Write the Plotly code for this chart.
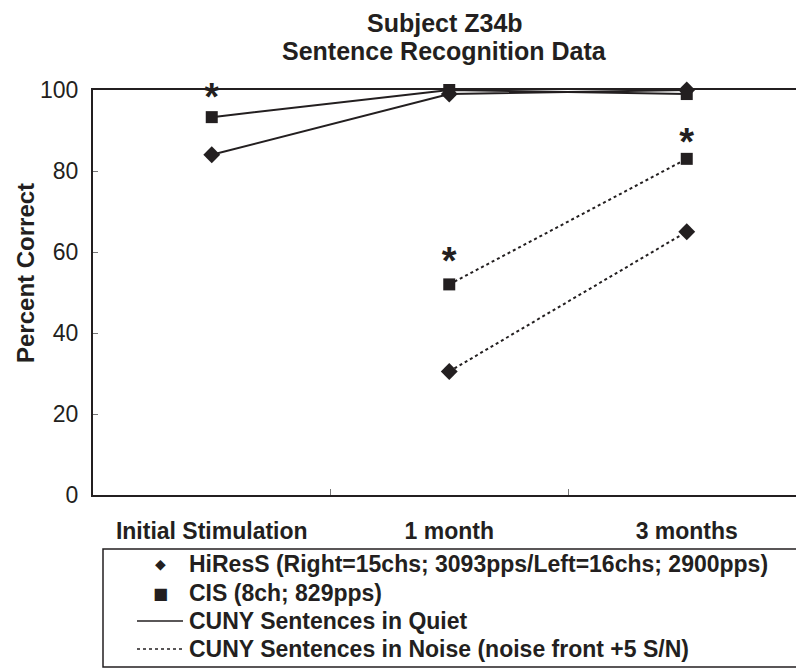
import plotly.graph_objects as go

categories = ["Initial Stimulation", "1 month", "3 months"]
hires_quiet = [84, 99, 100]
cis_quiet = [93.3, 100, 99]
hires_noise = [None, 30.5, 65]
cis_noise = [None, 52, 83]
star_x = ["Initial Stimulation", "1 month", "3 months"]
star_y = [97.3, 57, 86.3]

title_lines = ["Subject Z34b", "Sentence Recognition Data"]
y_title = "Percent Correct"
legend_labels = ["HiResS (Right=15chs; 3093pps/Left=16chs; 2900pps)",
                 "CIS (8ch; 829pps)",
                 "CUNY Sentences in Quiet",
                 "CUNY Sentences in Noise (noise front +5 S/N)"]
legend_kinds = ["diamond", "square", "solid", "dot"]

ink = "#231f20"
font = "Liberation Sans, Arial, sans-serif"

# plot area in pixels
L, R, T, B, W, H = 93, 0, 90, 174, 796, 669
PW, PH = W - L - R, H - T - B
def px(x): return (x - L) / PW
def py(y): return (H - B - y) / PH

fig = go.Figure()

def add(y, symbol, dash):
    fig.add_trace(go.Scatter(
        x=categories, y=y, mode="lines+markers", showlegend=False,
        line=dict(color=ink, width=2, dash=dash),
        marker=dict(symbol=symbol, size=13 if symbol == "diamond" else 12, color=ink),
        cliponaxis=False, hoverinfo="skip"))

add(hires_quiet, "diamond", "solid")
add(cis_quiet, "square", "solid")
add(hires_noise, "diamond", "dot")
add(cis_noise, "square", "dot")

fig.add_trace(go.Scatter(
    x=star_x, y=star_y, mode="text", text=["<b>*</b>"] * len(star_x),
    textfont=dict(size=38, color=ink, family=font), textposition="middle center",
    showlegend=False, cliponaxis=False, hoverinfo="skip"))

annotations = []
shapes = []
# title
for t, yy in zip(title_lines, [23, 51]):
    annotations.append(dict(text="<b>" + t + "</b>", x=0.5, xref="paper", y=py(yy),
                            yref="paper", xanchor="center", yanchor="middle",
                            showarrow=False, font=dict(size=25, color=ink, family=font)))
# y-axis title
annotations.append(dict(text="<b>" + y_title + "</b>", x=px(25), xref="paper", y=py(273),
                        yref="paper", xanchor="center", yanchor="middle", textangle=-90,
                        showarrow=False, font=dict(size=24, color=ink, family=font)))

# legend (drawn manually for tight row spacing)
shapes.append(dict(type="rect", xref="paper", yref="paper", x0=px(103), x1=px(805),
                   y0=py(549), y1=py(667), line=dict(color=ink, width=1.5),
                   fillcolor="white", layer="above"))
rows = [564, 593, 621, 649]
for lab, kind, ry in zip(legend_labels, legend_kinds, rows):
    annotations.append(dict(text="<b>" + lab + "</b>", x=px(187), xref="paper", y=py(ry),
                            yref="paper", xanchor="left", yanchor="middle",
                            showarrow=False, font=dict(size=23, color=ink, family=font)))
    if kind in ("diamond", "square"):
        glyph = "\u25c6" if kind == "diamond" else "\u25a0"
        annotations.append(dict(text=glyph, x=px(160), xref="paper", y=py(ry),
                                yref="paper", xanchor="center", yanchor="middle",
                                showarrow=False,
                                font=dict(size=14 if kind == "diamond" else 16, color=ink,
                                          family="DejaVu Sans")))
    else:
        shapes.append(dict(type="line", xref="paper", yref="paper", x0=px(137), x1=px(183),
                           y0=py(ry), y1=py(ry), layer="above",
                           line=dict(color=ink, width=1.5, dash=kind)))

fig.update_layout(
    width=W, height=H,
    margin=dict(l=L, r=R, t=T, b=B),
    paper_bgcolor="white", plot_bgcolor="white",
    font=dict(family=font, size=23, color=ink),
    showlegend=False,
    annotations=annotations, shapes=shapes,
)
fig.update_xaxes(
    type="category", categoryarray=categories, range=[-0.5, 2.46],
    showline=True, linecolor=ink, linewidth=2, mirror=True,
    ticks="inside", tickson="boundaries", ticklen=6, tickcolor="#777", tickwidth=1,
    showgrid=False, zeroline=False, ticklabelstandoff=14, automargin=False,
    tickprefix="<b>", ticksuffix="</b>", tickfont=dict(size=23))
fig.update_yaxes(
    range=[0, 100], tickvals=[0, 20, 40, 60, 80, 100],
    showline=True, linecolor=ink, linewidth=2,
    ticks="inside", ticklen=5, tickcolor="#777", tickwidth=1,
    showgrid=False, zeroline=False, ticklabelstandoff=8, automargin=False,
    tickprefix="<b>", ticksuffix="</b>",
    tickfont=dict(size=23))

fig.write_html("out.html")
